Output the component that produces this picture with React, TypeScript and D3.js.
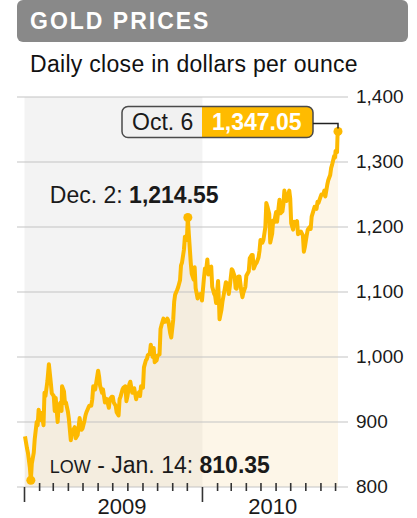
import React from "react";
import * as d3 from "d3";

// daily close, dollars per ounce (sampled)
const dates2009 = [
  "2009-01-02", "2009-01-06", "2009-01-08", "2009-01-12", "2009-01-14", "2009-01-16", "2009-01-20", "2009-01-22",
  "2009-01-26", "2009-01-28", "2009-01-30", "2009-02-03", "2009-02-05", "2009-02-09", "2009-02-11", "2009-02-13",
  "2009-02-17", "2009-02-20", "2009-02-24", "2009-02-26", "2009-03-02", "2009-03-04", "2009-03-06", "2009-03-10",
  "2009-03-12", "2009-03-16", "2009-03-18", "2009-03-19", "2009-03-23", "2009-03-25", "2009-03-27", "2009-03-31",
  "2009-04-02", "2009-04-06", "2009-04-08", "2009-04-14", "2009-04-16", "2009-04-20", "2009-04-22", "2009-04-24",
  "2009-04-28", "2009-04-30", "2009-05-04", "2009-05-06", "2009-05-08", "2009-05-12", "2009-05-14", "2009-05-18",
  "2009-05-20", "2009-05-22", "2009-05-26", "2009-05-28", "2009-06-01", "2009-06-03", "2009-06-05", "2009-06-09",
  "2009-06-11", "2009-06-15", "2009-06-17", "2009-06-19", "2009-06-23", "2009-06-25", "2009-06-29", "2009-07-01",
  "2009-07-03", "2009-07-07", "2009-07-09", "2009-07-13", "2009-07-15", "2009-07-17", "2009-07-21", "2009-07-23",
  "2009-07-27", "2009-07-29", "2009-07-31", "2009-08-04", "2009-08-06", "2009-08-10", "2009-08-12", "2009-08-14",
  "2009-08-18", "2009-08-20", "2009-08-24", "2009-08-26", "2009-08-28", "2009-09-01", "2009-09-03", "2009-09-07",
  "2009-09-09", "2009-09-11", "2009-09-15", "2009-09-17", "2009-09-21", "2009-09-23", "2009-09-25", "2009-09-29",
  "2009-10-01", "2009-10-05", "2009-10-07", "2009-10-09", "2009-10-13", "2009-10-15", "2009-10-19", "2009-10-21",
  "2009-10-23", "2009-10-27", "2009-10-29", "2009-11-02", "2009-11-04", "2009-11-06", "2009-11-10", "2009-11-12",
  "2009-11-16", "2009-11-18", "2009-11-20", "2009-11-24", "2009-11-26", "2009-11-30", "2009-12-02", "2009-12-04",
  "2009-12-08", "2009-12-10", "2009-12-14", "2009-12-16", "2009-12-18", "2009-12-22", "2009-12-24", "2009-12-29",
  "2009-12-31",
];
const closes2009 = [
  878, 860, 853, 830, 810.35, 836, 853, 874,
  900, 895, 919, 903, 914, 895, 945, 940,
  963, 989, 960, 944, 940, 917, 937, 900,
  925, 930, 917, 955, 947, 929, 930, 916,
  905, 872, 884, 892, 875, 880, 892, 906,
  888, 890, 902, 910, 915, 922, 925, 925,
  935, 955, 950, 960, 979, 970, 956, 945,
  950, 930, 936, 935, 922, 935, 939, 939,
  930, 925, 915, 910, 935, 939, 950, 953,
  955, 932, 939, 958, 962, 945, 946, 952,
  935, 942, 946, 940, 955, 953, 984, 995,
  997, 1003, 1005, 1019, 1000, 1014, 992, 995,
  1002, 1004, 1043, 1049, 1059, 1054, 1055, 1059,
  1056, 1036, 1030, 1057, 1085, 1096, 1103, 1107,
  1118, 1141, 1145, 1165, 1185, 1180, 1214.55, 1190,
  1145, 1128, 1119, 1138, 1106, 1090, 1096, 1097,
  1087,
];

const dates2010 = [
  "2010-01-04", "2010-01-06", "2010-01-08", "2010-01-11", "2010-01-13", "2010-01-15", "2010-01-19", "2010-01-21",
  "2010-01-25", "2010-01-27", "2010-01-29", "2010-02-02", "2010-02-04", "2010-02-05", "2010-02-09", "2010-02-11",
  "2010-02-16", "2010-02-18", "2010-02-22", "2010-02-24", "2010-02-26", "2010-03-02", "2010-03-04", "2010-03-08",
  "2010-03-10", "2010-03-12", "2010-03-16", "2010-03-18", "2010-03-22", "2010-03-24", "2010-03-26", "2010-03-30",
  "2010-04-01", "2010-04-06", "2010-04-08", "2010-04-12", "2010-04-14", "2010-04-16", "2010-04-20", "2010-04-22",
  "2010-04-26", "2010-04-28", "2010-04-30", "2010-05-04", "2010-05-06", "2010-05-10", "2010-05-12", "2010-05-14",
  "2010-05-18", "2010-05-20", "2010-05-24", "2010-05-26", "2010-05-28", "2010-06-01", "2010-06-03", "2010-06-07",
  "2010-06-08", "2010-06-10", "2010-06-14", "2010-06-16", "2010-06-18", "2010-06-22", "2010-06-24", "2010-06-28",
  "2010-06-30", "2010-07-02", "2010-07-06", "2010-07-08", "2010-07-12", "2010-07-14", "2010-07-16", "2010-07-20",
  "2010-07-22", "2010-07-26", "2010-07-28", "2010-07-30", "2010-08-03", "2010-08-05", "2010-08-09", "2010-08-11",
  "2010-08-13", "2010-08-17", "2010-08-19", "2010-08-23", "2010-08-25", "2010-08-27", "2010-08-31", "2010-09-02",
  "2010-09-06", "2010-09-08", "2010-09-10", "2010-09-14", "2010-09-16", "2010-09-20", "2010-09-22", "2010-09-24",
  "2010-09-28", "2010-09-30", "2010-10-01", "2010-10-04", "2010-10-05", "2010-10-06",
];
const closes2010 = [
  1121, 1136, 1130, 1150, 1127, 1137, 1139, 1108,
  1097, 1094, 1083, 1117, 1083, 1058, 1073, 1085,
  1106, 1115, 1112, 1097, 1108, 1135, 1133, 1124,
  1106, 1105, 1124, 1124, 1100, 1092, 1099, 1108,
  1125, 1132, 1152, 1157, 1157, 1136, 1143, 1145,
  1153, 1163, 1180, 1176, 1180, 1200, 1237, 1232,
  1220, 1176, 1190, 1210, 1207, 1223, 1208, 1236,
  1242, 1221, 1224, 1235, 1256, 1240, 1243, 1256,
  1244, 1206, 1196, 1208, 1205, 1209, 1189, 1191,
  1193, 1187, 1162, 1169, 1188, 1196, 1200, 1197,
  1216, 1226, 1231, 1228, 1239, 1237, 1246, 1250,
  1250, 1256, 1247, 1265, 1272, 1280, 1291, 1296,
  1309, 1307, 1317, 1315, 1340, 1347.05,
];

const priceTicks = [800, 900, 1000, 1100, 1200, 1300, 1400];
const years = ["2009", "2010"];

const FONT = "'Liberation Sans', Arial, Helvetica, sans-serif";
const GOLD = "#fdb900";

const parse = d3.timeParse("%Y-%m-%d");
const series = [
  ...dates2009.map((d, i) => ({ date: parse(d)!, value: closes2009[i] })),
  ...dates2010.map((d, i) => ({ date: parse(d)!, value: closes2010[i] })),
];

export default function App() {
  const width = 417;
  const height = 518;

  const start = new Date(2009, 0, 1);
  const end = series[series.length - 1].date;

  const x = d3.scaleTime().domain([start, end]).range([24.5, 338]);
  const y = d3.scaleLinear().domain([800, 1400]).range([487, 97]);

  const gridLeft = 17;
  const gridRight = 348;

  const area = d3
    .area<{ date: Date; value: number }>()
    .x(d => x(d.date))
    .y0(y(800))
    .y1(d => y(d.value));

  const line = d3
    .line<{ date: Date; value: number }>()
    .x(d => x(d.date))
    .y(d => y(d.value));

  const months = d3.timeMonth.range(start, d3.timeDay.offset(end, 1));

  // annotated points
  const low = series.reduce((a, b) => (b.value < a.value ? b : a));
  const high2009 = series
    .filter(d => d.date.getFullYear() === 2009)
    .reduce((a, b) => (b.value > a.value ? b : a));
  const last = series[series.length - 1];
  const fmt = d3.format(",.2f");

  const lx = x(low.date), ly = y(low.value);
  const hx = x(high2009.date), hy = y(high2009.value);
  const ex = x(last.date), ey = y(last.value);

  // Oct. 6 box
  const boxL = ex - 216, boxR = ex - 25, boxT = ey - 25, boxB = ey + 6;
  const boxSplit = ex - 136;

  const yearCenters = [
    x(new Date(2009, 6, 20)),
    x(new Date(2010, 4, 25)),
  ];

  return (
    <svg
      width={width}
      height={height}
      style={{ position: "absolute", left: 0, top: 0, background: "#fff" }}
      fontFamily={FONT}
    >
      {/* header */}
      <rect x={17} y={0} width={391} height={42} rx={6} fill="#898989" />
      <text x={30} y={29} fill="#fff" fontSize={23} fontWeight="bold" letterSpacing={2}>
        GOLD PRICES
      </text>
      <text x={30} y={72} fill="#111" fontSize={23} letterSpacing={0.3}>
        Daily close in dollars per ounce
      </text>

      {/* 2009 shading */}
      <rect
        x={x(start)}
        y={y(1400)}
        width={x(new Date(2010, 0, 1)) - x(start)}
        height={y(800) - y(1400)}
        fill="#f3f3f3"
      />

      {/* area under line */}
      <path d={area(series) ?? ""} fill="#f7d9a0" fillOpacity={0.24} />

      {/* gridlines + labels */}
      {priceTicks.map(t => (
        <g key={t}>
          <line x1={gridLeft} x2={gridRight} y1={y(t)} y2={y(t)} stroke="#c4c4c4" strokeWidth={1.2} />
          <text x={356} y={y(t)} dy="0.33em" fontSize={19} fill="#1a1a1a">
            {d3.format(",")(t)}
          </text>
        </g>
      ))}

      {/* month ticks */}
      {months.map(m => {
        const major = m.getMonth() === 0;
        return (
          <line
            key={m.getTime()}
            x1={x(m)}
            x2={x(m)}
            y1={major ? y(800) : y(800) - 4}
            y2={major ? y(800) + 15 : y(800) + 4}
            stroke="#333"
            strokeWidth={1.6}
          />
        );
      })}
      {years.map((yr, i) => (
        <text key={yr} x={yearCenters[i]} y={514} textAnchor="middle" fontSize={22} fill="#1a1a1a">
          {yr}
        </text>
      ))}

      {/* price line */}
      <path d={line(series) ?? ""} fill="none" stroke={GOLD} strokeWidth={4} strokeLinejoin="round" />

      {/* annotations */}
      <circle cx={lx} cy={ly} r={4.5} fill={GOLD} />
      <circle cx={hx} cy={hy} r={4.5} fill={GOLD} />
      <circle cx={ex} cy={ey} r={4.5} fill={GOLD} />

      <text x={hx - 138} y={hy - 15} fontSize={23} fill="#1a1a1a">
        Dec. 2: <tspan fontWeight="bold">{fmt(high2009.value)}</tspan>
      </text>

      <text x={lx + 19} y={ly - 7} fontSize={23} fill="#1a1a1a">
        <tspan fontSize={18}>LOW</tspan> - Jan. 14: <tspan fontWeight="bold">{fmt(low.value)}</tspan>
      </text>

      <rect x={boxL} y={boxT} width={boxR - boxL} height={boxB - boxT} rx={6} fill="#f1f1f1" />
      <path
        d={`M${boxSplit},${boxT} H${boxR - 6} Q${boxR},${boxT} ${boxR},${boxT + 6} V${boxB - 6} Q${boxR},${boxB} ${boxR - 6},${boxB} H${boxSplit} Z`}
        fill="#ffbb00"
      />
      <rect x={boxL} y={boxT} width={boxR - boxL} height={boxB - boxT} rx={6} fill="none" stroke="#4a4a4a" strokeWidth={1.5} />
      <text x={boxL + 10} y={boxB - 7} fontSize={23} fill="#1a1a1a">
        Oct. 6
      </text>
      <text x={boxSplit + 10} y={boxB - 7} fontSize={23} fontWeight="bold" fill="#fff">
        {fmt(last.value)}
      </text>
      <path d={`M${boxR},${ey - 8} H${ex} V${ey - 3}`} fill="none" stroke="#222" strokeWidth={1.5} />
    </svg>
  );
}
